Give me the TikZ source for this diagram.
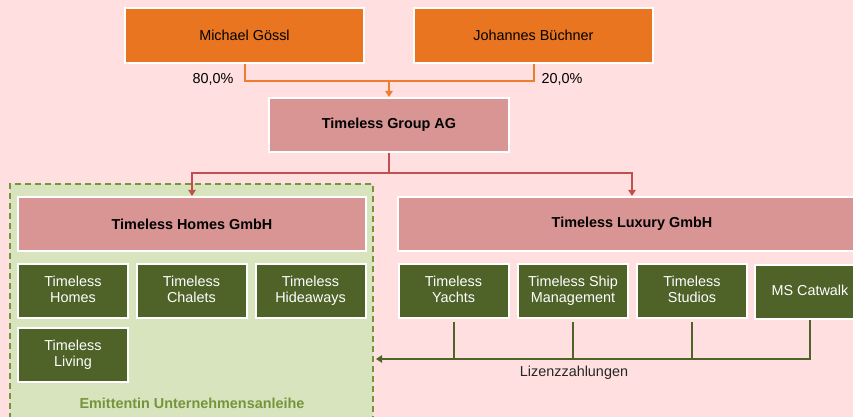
\documentclass[tikz,border=0pt]{standalone}
\usepackage{fontspec}
\setmainfont{Liberation Sans}
\usepackage{xcolor}
\usetikzlibrary{arrows.meta, positioning}

\definecolor{bgpink}{RGB}{255,223,223}
\definecolor{ownerorange}{RGB}{233,117,33}
\definecolor{lineorange}{RGB}{237,125,49}
\definecolor{holdingred}{RGB}{217,149,148}
\definecolor{linered}{RGB}{192,80,77}
\definecolor{brandgreen}{RGB}{79,98,40}
\definecolor{issuergreen}{RGB}{215,228,189}
\definecolor{olive}{RGB}{119,147,60}

\begin{document}
\begin{tikzpicture}[x=0.75pt, y=-0.75pt, font=\fontsize{10.8}{11.8}\selectfont,
  box/.style={draw=white, line width=1.5pt, inner sep=0pt, align=center},
  owner/.style={box, fill=ownerorange, minimum width=179.25pt, minimum height=41.25pt},
  holding/.style={box, fill=holdingred, font=\fontsize{10.8}{11.8}\selectfont\bfseries, minimum height=40.5pt},
  brand/.style={box, fill=brandgreen, text=white, minimum width=82.5pt, minimum height=40.5pt,
    execute at end node=\vphantom{g}},
  issuer/.style={draw=olive, fill=issuergreen, line width=1.5pt, dash pattern=on 4.5pt off 3pt, inner sep=0pt},
  ownline/.style={draw=lineorange, line width=1.5pt},
  holdline/.style={draw=linered, line width=1.5pt},
  licline/.style={draw=brandgreen, line width=1.5pt},
  tip/.style={-{Triangle[length=4.5pt, width=5.5pt]}}
]
\useasboundingbox (0,0) rectangle (853,417);
\clip (0,0) rectangle (853,417);
\fill[bgpink] (0,0) rectangle (853,417);

%------------- Owners
	\node[owner] (michael) at (244.5, 35.5) {Michael Gössl};
	\node[owner] (johannes) at (533.5, 35.5) {Johannes Büchner};

	\node (share_michael) at (213, 79) {80,0\%};
	\node (share_johannes) at (562, 79) {20,0\%};

%------------- Group
	\node[holding, minimum width=180pt] (group) at (389, 125) {Timeless Group AG};

	\coordinate (stake) at (389, 81);
	\draw[ownline] (michael.south) |- (stake) -| (johannes.south);
	\draw[ownline, tip] (stake) -- (group.north);

%------------- Issuer
	\node[issuer, minimum width=272.25pt, minimum height=176.25pt] (issuer) at (191.5, 301.5) {};
	\node[font=\fontsize{10.8}{11.8}\selectfont\bfseries, text=olive] (issuer_label) at (192, 403) {Emittentin Unternehmensanleihe};

	\node[holding, minimum width=261pt] (homes_gmbh) at (192, 224) {Timeless Homes GmbH};
	\node[brand] (homes) at (73, 291) {Timeless\\Homes};
	\node[brand] (chalets) at (191.5, 291) {Timeless\\Chalets};
	\node[brand] (hideaways) at (310.5, 291) {Timeless\\Hideaways};
	\node[brand] (living) at (73, 355) {Timeless\\Living};

%------------- Luxury
	\node[holding, minimum width=351pt] (luxury_gmbh) at (632, 224) {Timeless Luxury GmbH};
	\node[brand] (yachts) at (453.5, 291) {Timeless\\Yachts};
	\node[brand] (ship) at (573, 291) {Timeless Ship\\Management};
	\node[brand] (studios) at (692, 291) {Timeless\\Studios};
	\node[brand] (catwalk) at (810, 292) {MS Catwalk};

	\coordinate (split) at (389, 173);
	\draw[holdline] (group.south) -- (split);
	\draw[holdline, tip] (split) -| (homes_gmbh.north);
	\draw[holdline, tip] (split) -| (luxury_gmbh.north);

%------------- Licence fees
	\coordinate (bus) at (0, 359);
	\draw[licline, tip] (catwalk.south) |- ([xshift=1.5pt]issuer.east |- bus);
	\draw[licline, shorten <=2.5pt] (yachts.south) -- (yachts.south |- bus);
	\draw[licline, shorten <=2.5pt] (ship.south) -- (ship.south |- bus);
	\draw[licline, shorten <=2.5pt] (studios.south) -- (studios.south |- bus);

	\node[text=black!85] (licence_label) at (574, 373) {Lizenzzahlungen};

\end{tikzpicture}
\end{document}
